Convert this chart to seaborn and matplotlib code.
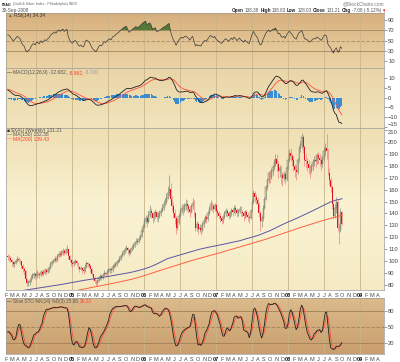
import numpy as np
import pandas as pd
import matplotlib
matplotlib.use('Agg')
import matplotlib.pyplot as plt
from matplotlib.colors import LinearSegmentedColormap
import seaborn as sns

sns.set_style('white')
plt.rcParams['font.family'] = ['Liberation Sans', 'DejaVu Sans']

# weekly closes before the first visible bar (only used to warm up the indicators)
closes_before = [86, 88, 90, 92, 95, 98, 100, 97, 95, 97, 99, 96, 98,
                 100, 97, 96, 99, 102, 105, 108, 110, 112, 108, 106, 107, 104]

# weekly bars, Feb 2004 .. Sep 2008
closes = [
    103, 102.5, 101, 99, 97, 98, 100, 102, 101, 100,
    96, 93, 91.5, 85, 81, 82, 83, 86, 88, 89,
    87, 90, 89, 88, 91, 89, 90, 92, 91, 93,
    94, 97, 99, 100, 102, 101, 104, 106, 105, 107,
    108.5, 107, 109, 110, 104, 101, 98, 97, 99, 100,
    98, 95, 93, 94, 92, 91.5, 95, 98, 97, 96,
    93, 89, 85.6, 83, 81, 83, 85.6, 87, 86, 88,
    90, 89, 91, 92, 93, 92, 95, 96, 97, 99,
    100, 102, 104, 106, 108, 110, 111, 109, 107, 109,
    111, 113, 115, 117, 116, 118.7, 121, 125, 129, 134,
    136, 133, 139, 142, 140, 136, 139, 141, 137, 138,
    140, 142, 145, 148, 150, 153, 157, 161, 152.5, 146,
    140, 136, 128, 133, 138, 142, 145, 143, 146, 148,
    146, 144, 141, 146, 149, 140, 128, 131, 127, 128,
    126, 131, 134, 137, 135, 140, 144, 148, 146, 144,
    147, 142, 140, 138, 136, 134, 137, 140, 142, 140,
    138, 140, 143, 141, 145, 143, 140, 142, 144, 141,
    140, 138, 141, 139, 137, 136, 142, 150, 157.6, 154,
    151, 148, 140, 134, 136, 145, 152, 162, 168, 174,
    171, 176, 179, 183, 186, 182, 176, 178, 172, 170,
    173, 169, 178, 185, 191, 188, 185, 180, 177, 175,
    185, 195, 198, 204, 196, 185, 184, 182, 178, 176,
    180, 183, 185, 184, 189, 187, 185, 182, 186, 193,
    195, 193, 174, 168, 162, 148, 138, 145, 150, 128,
    126, 141, 131.21]
highs = [
    106, 105, 104, 102, 100, 100, 102, 104, 103, 102,
    100, 97, 95, 92, 86, 84, 86, 88, 90, 91,
    90, 92, 91, 90, 92, 92, 92, 94, 93, 95,
    96, 99, 101, 102, 104, 103, 106, 108, 108, 109,
    111, 110, 111, 113, 110, 105, 102, 100, 101, 102,
    101, 99, 96, 96, 95, 94, 97, 100, 99, 98,
    97, 94, 90, 87, 84, 85, 87, 89, 88, 90,
    92, 91, 93, 94, 95, 94, 97, 98, 99, 101,
    102, 104, 106, 108, 110, 112, 113, 112, 110, 111,
    113, 115, 117, 119, 119, 121, 123, 127, 131, 136,
    139, 138, 142, 147, 145, 141, 142, 144, 142, 141,
    143, 145, 148, 151, 153, 157, 163, 172, 166, 155,
    150, 144, 138, 136, 140, 145, 148, 148, 149, 152,
    151, 148, 146, 148, 153, 151, 141, 134, 133, 131,
    130, 133, 136, 139, 139, 142, 146, 151, 150, 148,
    149, 148, 144, 142, 140, 138, 139, 142, 145, 144,
    142, 142, 145, 145, 147, 147, 145, 144, 146, 146,
    143, 142, 143, 143, 141, 139, 144, 152, 160, 159,
    156, 153, 150, 142, 139, 147, 154, 164, 170, 176,
    177, 178, 181, 186, 190, 190, 184, 181, 180, 175,
    176, 175, 180, 187, 194, 195, 190, 188, 182, 181,
    187, 197, 201, 208, 206, 198, 190, 187, 185, 181,
    182, 186, 188, 189, 191, 192, 190, 188, 189, 196,
    199, 207, 194, 178, 171, 164, 150, 148, 154, 151,
    132, 145, 142]
lows = [
    101, 100, 99, 96, 95, 95, 97, 99, 99, 97,
    94, 91, 88, 83, 79, 79, 80, 82, 85, 86,
    85, 86, 87, 86, 87, 87, 88, 89, 89, 90,
    91, 93, 96, 98, 99, 99, 100, 103, 103, 104,
    105, 105, 106, 107, 102, 99, 96, 95, 96, 97,
    96, 93, 91, 92, 90, 89, 91, 94, 95, 94,
    91, 87, 84, 81, 79, 80, 83, 84, 84, 85,
    87, 87, 88, 90, 90, 90, 91, 94, 95, 96,
    98, 99, 101, 103, 105, 107, 108, 106, 104, 106,
    108, 110, 112, 114, 113, 115, 118, 120, 124, 128,
    132, 129, 132, 137, 136, 132, 134, 136, 134, 133,
    136, 138, 141, 143, 146, 148, 152, 155, 150, 142,
    136, 131, 123, 126, 131, 136, 140, 139, 141, 143,
    142, 140, 137, 140, 144, 137, 125, 125, 123, 124,
    122, 124, 129, 132, 132, 134, 139, 143, 142, 140,
    142, 140, 137, 135, 133, 131, 132, 135, 138, 137,
    135, 136, 138, 138, 140, 139, 137, 138, 140, 138,
    137, 134, 136, 136, 134, 132, 135, 141, 148, 150,
    148, 144, 137, 125, 129, 134, 144, 151, 160, 166,
    166, 169, 172, 177, 180, 176, 170, 171, 165, 163,
    167, 165, 167, 177, 183, 184, 180, 176, 171, 168,
    173, 183, 192, 195, 191, 180, 178, 176, 173, 170,
    174, 177, 180, 179, 182, 182, 180, 177, 179, 184,
    188, 186, 172, 164, 158, 144, 135, 136, 140, 125,
    114, 124, 130]

# moving averages, first of each month Feb 2004 .. Oct 2008
ma150 = [72.5, 73.5, 74.3, 75.2, 76, 76.8, 77.6, 78.4, 79.2, 80,
         80.9, 81.8, 82.7, 83.6, 84.4, 85.2, 86, 86.9, 87.8, 88.7,
         89.6, 90.6, 91.8, 93.2, 95, 97, 99.5, 102, 103.5, 105,
         106.5, 108, 109.5, 110.7, 111.8, 112.8, 113.8, 114.8, 116, 117,
         118.6, 120, 121.5, 123.5, 125.5, 128, 130.5, 132.8, 135, 137.2,
         139.6, 142, 144.5, 147, 149.5, 151.3, 152.4]
ma200 = [64, 65, 66, 67, 67.9, 68.8, 69.7, 70.6, 71.5, 72.4,
         73.3, 74.3, 75.3, 76.3, 77.3, 78.3, 79.3, 80.3, 81.3, 82.4,
         83.5, 84.6, 86, 87.6, 89.2, 90.8, 92.4, 94, 95.6, 97.2,
         98.8, 100.4, 101.8, 103.2, 104.6, 106, 107.4, 108.9, 110.3, 111.8,
         113.3, 114.8, 116.3, 117.8, 119.5, 121.2, 122.9, 124.6, 126.3, 128,
         129.6, 131.2, 132.8, 134.3, 135.8, 137.2, 138.5]

dates = pd.date_range('2004-02-09', periods=len(closes), freq='7D')
ma_dates = pd.date_range('2004-02-01', periods=len(ma150), freq='MS')

closes = np.array(closes, float)
highs = np.array(highs, float)
lows = np.array(lows, float)
opens = np.r_[closes_before[-1], closes[:-1]]
n0 = len(closes_before)

# indicators, computed with the warm-up weeks then cut to the visible range
c_all = pd.Series(np.r_[closes_before, closes])
delta = c_all.diff()
ag = delta.clip(lower=0).ewm(alpha=1 / 14, adjust=False).mean()
al = (-delta.clip(upper=0)).ewm(alpha=1 / 14, adjust=False).mean()
rsi = (100 - 100 / (1 + ag / al)).values[n0:]

macd_all = c_all.ewm(span=12, adjust=False).mean() - c_all.ewm(span=26, adjust=False).mean()
sig_all = macd_all.ewm(span=9, adjust=False).mean()
macd = macd_all.values[n0:]
signal = sig_all.values[n0:]
hist = macd - signal

hh = pd.Series(highs).rolling(14, min_periods=1).max()
ll = pd.Series(lows).rolling(14, min_periods=1).min()
fast_k = 100 * (pd.Series(closes) - ll) / (hh - ll)
slow_k = fast_k.rolling(3, min_periods=1).mean()
slow_d = slow_k.rolling(3, min_periods=1).mean()

# ---------------------------------------------------------------- layout
W, H = 400, 362
fig = plt.figure(figsize=(W / 100, H / 100), dpi=100)
fig.patch.set_facecolor('white')
renderer = fig.canvas.get_renderer()


def box(top, bottom, left=6, right=384):
    return [left / W, 1 - bottom / H, (right - left) / W, (bottom - top) / H]


def run(x, y, pieces, size=3.6, ha='left', gap=1.2, fit=None):
    """Write text pieces one after another; pieces = (text, colour, weight)."""
    texts = [fig.text(0, 1 - y / H, s, fontsize=size, color=col, fontweight=wt,
                      va='center') for s, col, wt in pieces]
    widths = [t.get_window_extent(renderer).width for t in texts]
    total = sum(widths) + gap * (len(texts) - 1)
    if fit is not None and total > fit:
        k = fit / total
        for t in texts:
            t.set_fontsize(size * k)
        widths = [w * k for w in widths]
        total = fit
    cur = x - total if ha == 'right' else x
    for t, w in zip(texts, widths):
        t.set_x(cur / W)
        cur += w + gap


ax_rsi = fig.add_axes(box(12.5, 68))
ax_macd = fig.add_axes(box(68, 128), sharex=ax_rsi)
ax_px = fig.add_axes(box(128, 290), sharex=ax_rsi)
ax_sto = fig.add_axes(box(298, 354), sharex=ax_rsi)
axes = [ax_rsi, ax_macd, ax_px, ax_sto]


def shade(ax, colors):
    cmap = LinearSegmentedColormap.from_list('bg', colors[::-1])
    ax.imshow(np.linspace(0, 1, 64).reshape(-1, 1), cmap=cmap, origin='lower',
              extent=[0, 1, 0, 1], transform=ax.transAxes, aspect='auto', zorder=0)


shade(ax_rsi, ['#d7ae7c', '#e2c393', '#ebd3a5'])
shade(ax_macd, ['#e9d5a7', '#f1e4bc'])
shade(ax_px, ['#efdfb3', '#faf3d3', '#f5eac4'])
shade(ax_sto, ['#dcba8b', '#c99f6d'])

grid_dates = pd.date_range('2004-07-01', '2009-01-01', freq='6MS')
for ax in axes:
    for d in grid_dates:
        ax.axvline(d, color='#c9b48a', lw=0.6, zorder=1)

# RSI
for lvl, ls in [(70, '-'), (30, '-'), (50, (0, (4, 2)))]:
    ax_rsi.axhline(lvl, color='#a48a60', lw=0.6, ls=ls, zorder=1)
ax_rsi.fill_between(dates, rsi, 70, where=rsi > 70, interpolate=True,
                    color='#557a37', lw=0, zorder=2)
ax_rsi.fill_between(dates, rsi, 30, where=rsi < 30, interpolate=True,
                    color='#a04848', lw=0, zorder=2)
sns.lineplot(x=dates, y=rsi, ax=ax_rsi, color='#3a3a3a', lw=0.5, zorder=3)
ax_rsi.set_ylim(-3.6, 104.6)
ax_rsi.set_yticks([10, 30, 50, 70, 90])

# MACD
ax_macd.bar(dates, hist, width=6, color='#3c8dd0', lw=0, zorder=2)
sns.lineplot(x=dates, y=signal, ax=ax_macd, color='#ff5040', lw=0.6, zorder=3)
sns.lineplot(x=dates, y=macd, ax=ax_macd, color='#202020', lw=0.6, zorder=4)
ax_macd.set_ylim(-15.3, 14.8)
ax_macd.set_yticks([-15, -10, -5, 0, 5, 10])

# price candles
up = closes >= opens
body_lo = np.minimum(opens, closes)
body_h = np.abs(closes - opens)
ax_px.vlines(dates[up], lows[up], highs[up], color='#8f8f7c', lw=0.5, zorder=2)
ax_px.vlines(dates[~up], lows[~up], highs[~up], color='#f08080', lw=0.5, zorder=2)
ax_px.bar(dates[up], body_h[up], bottom=body_lo[up], width=4.5,
          facecolor='none', edgecolor='#74745f', lw=0.3, zorder=3)
ax_px.bar(dates[~up], body_h[~up], bottom=body_lo[~up], width=4.5,
          color='#e4101a', lw=0, zorder=3)
sns.lineplot(x=ma_dates, y=ma150, ax=ax_px, color='#5a55a5', lw=0.7, zorder=4)
sns.lineplot(x=ma_dates, y=ma200, ax=ax_px, color='#ff6040', lw=0.7, zorder=4)
ax_px.set_ylim(75.5, 212)
ax_px.set_yticks(range(80, 211, 10))

# slow stochastics
for lvl, ls in [(80, '-'), (20, '-'), (50, (0, (4, 2)))]:
    ax_sto.axhline(lvl, color='#a08058', lw=0.6, ls=ls, zorder=1)
sns.lineplot(x=dates, y=slow_d.values, ax=ax_sto, color='#ff5040', lw=0.6, zorder=3)
sns.lineplot(x=dates, y=slow_k.values, ax=ax_sto, color='#202020', lw=0.6, zorder=4)
ax_sto.set_ylim(-2.2, 106)
ax_sto.set_yticks([20, 50, 80])

# axes cosmetics
months = pd.date_range('2004-02-01', '2009-04-01', freq='MS')
month_labels = [f'{d:%y}' if d.month == 1 else 'JFMAMJJASOND'[d.month - 1] for d in months]
for ax in axes:
    ax.set_xlim(pd.Timestamp('2004-02-01'), pd.Timestamp('2009-05-01'))
    ax.set_xlabel('')
    ax.set_ylabel('')
    ax.yaxis.tick_right()
    ax.tick_params(axis='y', labelsize=4.2, length=2, width=0.4, pad=1,
                   colors='#555555', labelcolor='#444444')
    for sp in ax.spines.values():
        sp.set_color('#9a9a9a')
        sp.set_linewidth(0.5)
ax_rsi.set_xticks(months)
for ax in axes:
    ax.tick_params(axis='x', labelsize=4.0, length=1.5, width=0.4, pad=1,
                   colors='#777777', labelcolor='#444444', labelbottom=ax in (ax_px, ax_sto))
ax_px.set_xticklabels(month_labels)
ax_sto.set_xticklabels(month_labels)
for ax in (ax_px, ax_sto):
    for t in ax.get_xticklabels():
        if t.get_text().isdigit():
            t.set_fontweight('bold')
            t.set_color('#111111')

# the MACD -15 and price 210 labels sit on the shared border: keep them apart
ax_macd.get_yticklabels()[0].set_va('bottom')
ax_px.get_yticklabels()[-1].set_va('top')

# header and legends
dark, grey, red, blue = '#222222', '#555555', '#ff4030', '#3c8dd0'
run(2, 4.5, [('$XAU', '#111111', 'bold'),
             ('(Gold & Silver Index - Philadelphia) INDX', '#666666', 'normal')],
    size=3.6, fit=76)
run(2, 10.5, [('30-Sep-2008', grey, 'normal')], size=3.4)
run(384, 4, [('@StockCharts.com', '#777777', 'normal')], size=3.4, ha='right')
run(384, 10.5, [('Open', dark, 'bold'), ('138.38', grey, 'normal'),
                ('High', dark, 'bold'), ('138.83', grey, 'normal'),
                ('Low', dark, 'bold'), ('128.03', grey, 'normal'),
                ('Close', dark, 'bold'), ('131.21', grey, 'normal'),
                ('Chg', dark, 'bold'), ('-7.08 (-5.12%)', grey, 'normal'),
                ('\u25be', '#dd0000', 'normal')],
    size=3.6, ha='right', fit=152)

run(8, 15.5, [('\u25b2', '#557a37', 'normal'), ('RSI(14) 34.34', '#333333', 'normal')],
    size=3.6, gap=0.5)
run(7, 72.5, [('\u2014', '#202020', 'normal'), ('MACD(12,26,9) -12.682,', grey, 'normal'),
              ('-8.962,', red, 'normal'), ('-3.720', '#8a9ab0', 'normal')],
    size=3.6, fit=92)
run(7, 130.5, [('\u25a0', '#333333', 'normal'), ('$XAU (Weekly) 131.21', grey, 'normal')],
    size=3.6, gap=0.8)
run(7, 134.8, [('\u2014', '#5a55a5', 'normal'), ('MA(150) 152.38', grey, 'normal')], size=3.6)
run(7, 139.1, [('\u2014', '#ff6040', 'normal'), ('MA(200) 139.43', red, 'normal')], size=3.6)
run(7, 301.5, [('\u2014', '#202020', 'normal'), ('Slow STO %K(14) %D(3) 25.88,', grey, 'normal'),
               ('29.23', red, 'normal')], size=3.6, fit=84)

fig.savefig('out.png', dpi=100)
